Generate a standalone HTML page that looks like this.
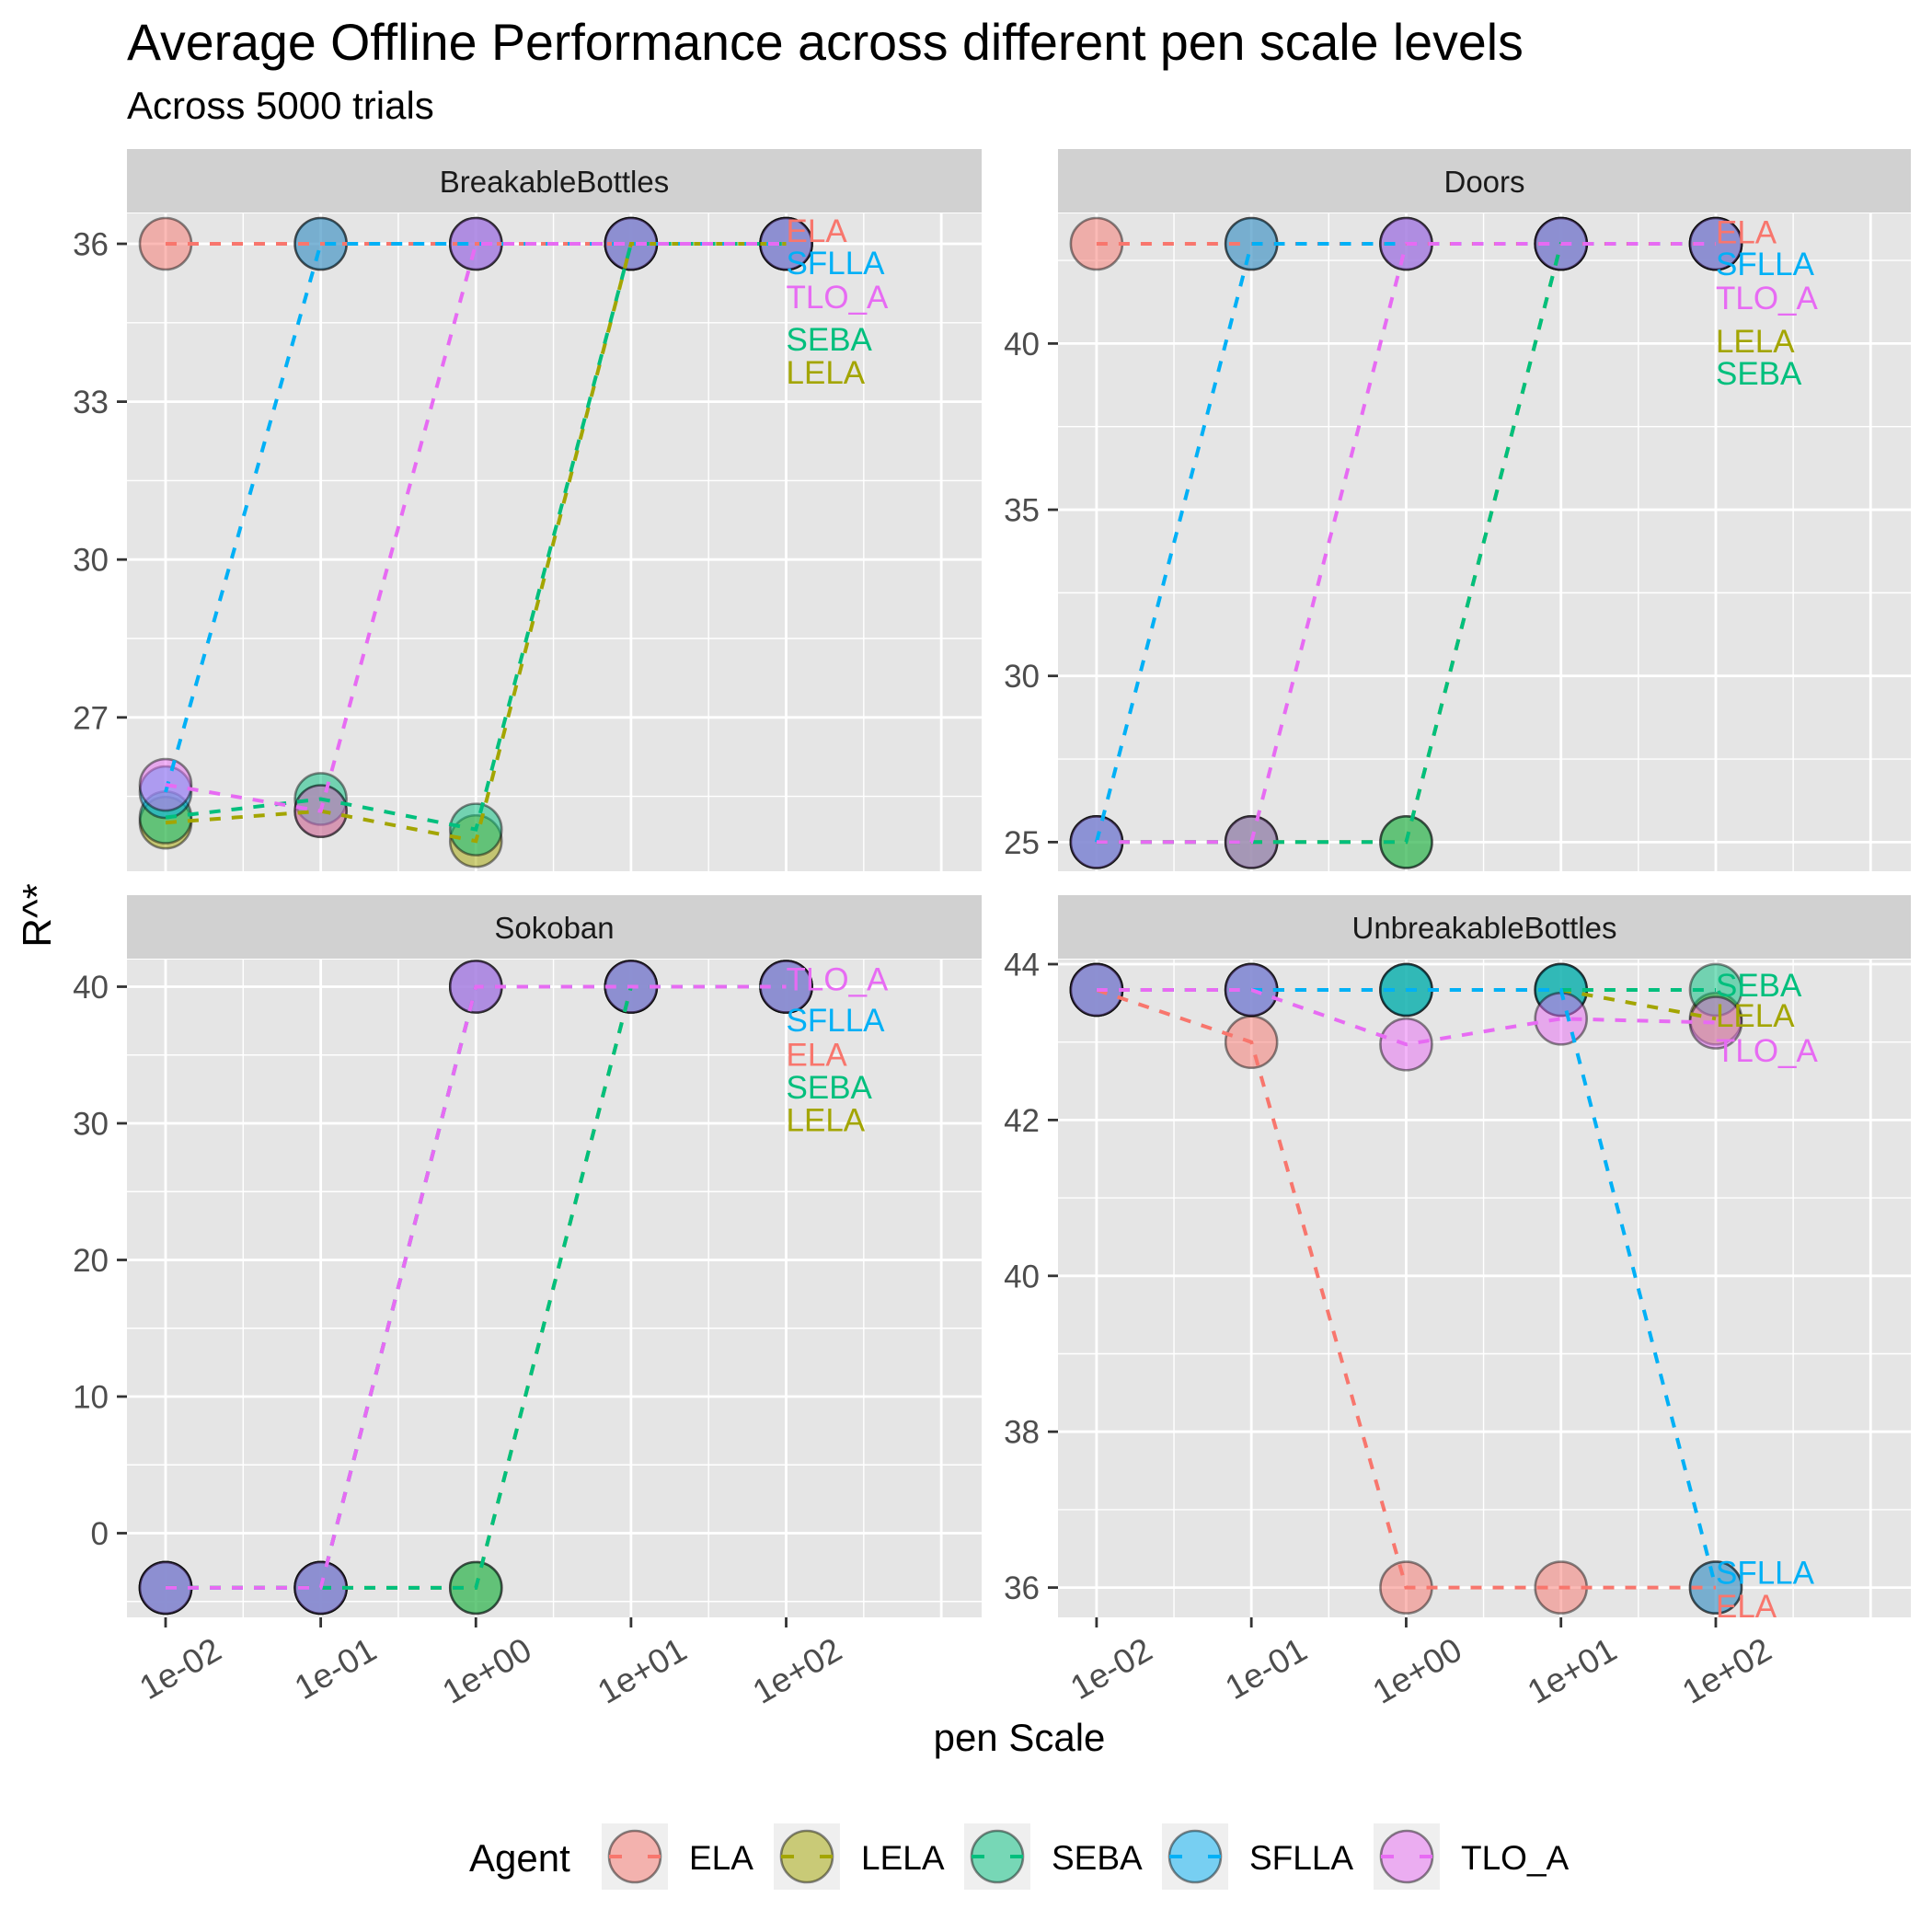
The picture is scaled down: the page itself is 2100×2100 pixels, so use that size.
<!DOCTYPE html>
<html><head><meta charset="utf-8"><style>
html,body{margin:0;padding:0;background:#fff;}
svg{display:block;font-family:"Liberation Sans",Arial,sans-serif;}
</style></head><body>
<svg id="chart" xmlns="http://www.w3.org/2000/svg" width="2100" height="2100" viewBox="0 0 2100 2100">
<rect width="2100" height="2100" fill="#fff"/>
<text x="138" y="65" font-size="55.5" fill="#000">Average Offline Performance across different pen scale levels</text>
<text x="138" y="129" font-size="42" fill="#000">Across 5000 trials</text>
<text transform="translate(55,995) rotate(-90)" text-anchor="middle" font-size="44" fill="#000">R^*</text>
<text x="1108" y="1903" text-anchor="middle" font-size="42" fill="#000">pen Scale</text>
<g id="panels"></g>
<g id="legend"></g>
</svg>
<script>
const agents = ["ELA","LELA","SEBA","SFLLA","TLO_A"];
const colors = ["#F8766D","#A3A500","#00BF7D","#00B0F6","#E76BF3"];
const xLevels = [-2,-1,0,1,2];
const xTickLabels = ["1e-02","1e-01","1e+00","1e+01","1e+02"];
const panelNames = ["BreakableBottles","Doors","Sokoban","UnbreakableBottles"];

const bbELA = [36,36,36,36,36];
const bbLELA = [25.0,25.22,24.65,36,36];
const bbSEBA = [25.1,25.45,24.87,36,36];
const bbSFLLA = [25.58,36,36,36,36];
const bbTLO = [25.72,25.22,36,36,36];

const drELA = [43,43,43,43,43];
const drLELA = [25,25,25,43,43];
const drSEBA = [25,25,25,43,43];
const drSFLLA = [25,43,43,43,43];
const drTLO = [25,25,43,43,43];

const skELA = [-4,-4,40,40,40];
const skLELA = [-4,-4,-4,40,40];
const skSEBA = [-4,-4,-4,40,40];
const skSFLLA = [-4,-4,40,40,40];
const skTLO = [-4,-4,40,40,40];

const ubELA = [43.67,43.0,36,36,36];
const ubLELA = [43.67,43.67,43.67,43.67,43.3];
const ubSEBA = [43.67,43.67,43.67,43.67,43.67];
const ubSFLLA = [43.67,43.67,43.67,43.67,36];
const ubTLO = [43.67,43.67,42.97,43.3,43.25];

const bbLabelY = [36.26,33.57,34.2,35.65,35.0];
const drLabelY = [43.38,40.1,39.12,42.42,41.4];
const skLabelY = [35.1,30.3,32.7,37.6,40.6];
const ubLabelY = [35.77,43.35,43.74,36.2,42.9];

const bbTicks = [27,30,33,36];
const drTicks = [25,30,35,40];
const skTicks = [0,10,20,30,40];
const ubTicks = [36,38,40,42,44];

const NS = "http://www.w3.org/2000/svg";
function mk(tag, attrs, parent){const e=document.createElementNS(NS,tag);for(const k in attrs)e.setAttribute(k,attrs[k]);if(parent)parent.appendChild(e);return e;}

const panels = [
 {name:panelNames[0], x0:138,x1:1067,y0:232,y1:947, s0:162, vMin:36-(947-265)/57.2, vMax:36+(265-232)/57.2, series:[bbELA,bbLELA,bbSEBA,bbSFLLA,bbTLO], ticks:bbTicks, labelY:bbLabelY, xlab:false},
 {name:panelNames[1], x0:1150,x1:2077,y0:232,y1:947, s0:162, vMin:43-(947-265)/36.13, vMax:43+(265-232)/36.13, series:[drELA,drLELA,drSEBA,drSFLLA,drTLO], ticks:drTicks, labelY:drLabelY, xlab:false},
 {name:panelNames[2], x0:138,x1:1067,y0:1043,y1:1758, s0:973, vMin:-(1758-1666.5)/14.85, vMax:(1666.5-1043)/14.85, series:[skELA,skLELA,skSEBA,skSFLLA,skTLO], ticks:skTicks, labelY:skLabelY, xlab:true},
 {name:panelNames[3], x0:1150,x1:2077,y0:1043,y1:1758, s0:973, vMin:44-(1758-1048)/84.7, vMax:44+(1048-1043)/84.7, series:[ubELA,ubLELA,ubSEBA,ubSFLLA,ubTLO], ticks:ubTicks, labelY:ubLabelY, xlab:true}
];
const xMin=-2.249, xMax=3.26;
const root=document.getElementById("panels");

panels.forEach((p,pi)=>{
  const slug=p.name.toLowerCase();
  const g=mk("g",{},root);
  
  
  const sx=v=>p.x0+(v-xMin)/(xMax-xMin)*(p.x1-p.x0);
  const sy=v=>p.y1-(v-p.vMin)/(p.vMax-p.vMin)*(p.y1-p.y0);
  const strip=mk("rect",{x:p.x0,y:p.s0,width:p.x1-p.x0,height:p.y0-p.s0-1,fill:"#D1D1D1"},g);
  
  
  const st=mk("text",{x:(p.x0+p.x1)/2,y:(p.s0+p.y0)/2+12,"text-anchor":"middle","font-size":33,fill:"#1A1A1A"},g);
  st.textContent=p.name;
  
  
  const bg=mk("rect",{x:p.x0,y:p.y0,width:p.x1-p.x0,height:p.y1-p.y0,fill:"#E5E5E5"},g);
  
  
  const step=p.ticks[1]-p.ticks[0];
  for(let v=p.ticks[0]-step;v<=p.ticks[p.ticks.length-1]+step;v+=step){
    const mv=v+step/2;
    if(mv>p.vMin&&mv<p.vMax){const l=mk("line",{x1:p.x0,x2:p.x1,y1:sy(mv),y2:sy(mv),stroke:"#fff","stroke-width":1.4},g);
    
    }
  }
  for(let d=-2.5;d<=3.5;d+=1){ if(d>xMin&&d<xMax){const l=mk("line",{x1:sx(d),x2:sx(d),y1:p.y0,y2:p.y1,stroke:"#fff","stroke-width":1.4},g);
    
    }}
  p.ticks.forEach(t=>{
    const l=mk("line",{x1:p.x0,x2:p.x1,y1:sy(t),y2:sy(t),stroke:"#fff","stroke-width":2.8},g);
    
    
    const tk=mk("line",{x1:p.x0-11,x2:p.x0,y1:sy(t),y2:sy(t),stroke:"#333","stroke-width":2.8},g);
    
    
    const tl=mk("text",{x:p.x0-20,y:sy(t)+12.5,"text-anchor":"end","font-size":35,fill:"#4D4D4D"},g);
    tl.textContent=String(t);
    
    
  });
  for(let d=-2;d<=3;d++){const l=mk("line",{x1:sx(d),x2:sx(d),y1:p.y0,y2:p.y1,stroke:"#fff","stroke-width":2.8},g);
    
    }
  if(p.xlab){
    xLevels.forEach((d,i)=>{
      const tk=mk("line",{x1:sx(d),x2:sx(d),y1:p.y1,y2:p.y1+11,stroke:"#333","stroke-width":2.8},g);
      
      
      const tl=mk("text",{transform:`translate(${sx(d)+50},${p.y1+20}) rotate(-30)`,"text-anchor":"end","font-size":37,fill:"#4D4D4D","dominant-baseline":"hanging"},g);
      tl.textContent=xTickLabels[i];
      
      
    });
  }
  p.series.forEach((vals,ai)=>{
    vals.forEach((v,i)=>{
      const c=mk("circle",{cx:sx(xLevels[i]),cy:sy(v),r:28,fill:colors[ai],"fill-opacity":0.5,stroke:"#000","stroke-opacity":0.45,"stroke-width":2.6},g);
      
      
    });
  });
  p.series.forEach((vals,ai)=>{
    const pts=vals.map((v,i)=>sx(xLevels[i]).toFixed(1)+","+sy(v).toFixed(1)).join(" ");
    const pl=mk("polyline",{points:pts,fill:"none",stroke:colors[ai],"stroke-width":4,"stroke-dasharray":"12 12"},g);
    
    
  });
  agents.forEach((a,ai)=>{
    const t=mk("text",{x:sx(2),y:sy(p.labelY[ai])+13,"font-size":35,fill:colors[ai]},g);
    t.textContent=a;
    
    
  });
});

const lg=document.getElementById("legend");
const at=mk("text",{x:510,y:2034,"font-size":42,fill:"#000"},lg);
at.textContent="Agent";


const keyX=[654,841,1048,1263,1493];
agents.forEach((a,ai)=>{
  const kg=mk("g",{},lg);
  
  
  const kx=keyX[ai];
  mk("rect",{x:kx,y:1982,width:72,height:72,fill:"#EFEFEF"},kg);
  mk("circle",{cx:kx+36,cy:2018,r:28,fill:colors[ai],"fill-opacity":0.5,stroke:"#000","stroke-opacity":0.45,"stroke-width":2.6},kg);
  mk("line",{x1:kx+8,x2:kx+64,y1:2018,y2:2018,stroke:colors[ai],"stroke-width":4,"stroke-dasharray":"14 28"},kg);
  const t=mk("text",{x:kx+95,y:2032,"font-size":37,fill:"#000"},kg);
  t.textContent=a;
});
</script>
</body></html>
